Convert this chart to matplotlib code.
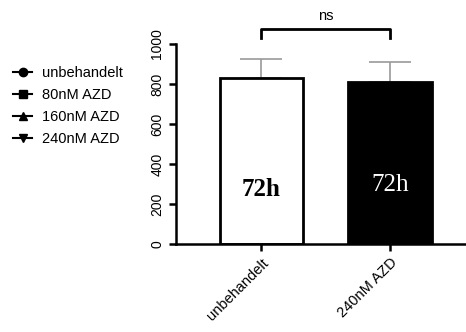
import matplotlib.pyplot as plt
from matplotlib.lines import Line2D

plt.rcParams['font.family'] = ['Liberation Sans', 'DejaVu Sans']

groups = ["unbehandelt", "240nM AZD"]
means = [830, 810]
errors = [95, 100]
legend_labels = ["unbehandelt", "80nM AZD", "160nM AZD", "240nM AZD"]
legend_markers = ["o", "s", "^", "v"]

fig = plt.figure(figsize=(4.66, 3.32), dpi=100)
ax = fig.add_axes([0.378, 0.265, 0.622, 0.663])

x = [0, 1]
ax.bar(x, means, width=0.645, color=["white", "black"], edgecolor="black", linewidth=2, zorder=2)
ax.errorbar(x, means, yerr=[[0, 0], errors], fmt="none", ecolor="#999999", elinewidth=1.2,
            capsize=15, capthick=1.2, zorder=1)

ax.set_xlim(-0.66, 1.59)
ax.set_ylim(0, 1100)
ax.set_yticks([0, 200, 400, 600, 800, 1000])
ax.set_yticklabels(["0", "200", "400", "600", "800", "1000"], rotation=90, va="center", fontsize=10)
ax.set_xticks(x)
ax.set_xticklabels(groups, rotation=45, ha="right", rotation_mode="anchor", fontsize=10.5)
ax.spines["top"].set_visible(False)
ax.spines["right"].set_visible(False)
ax.spines["left"].set_bounds(0, 1000)
ax.spines["left"].set_linewidth(1.8)
ax.spines["bottom"].set_linewidth(1.8)
ax.tick_params(width=1.8, length=5)

ax.text(0, 270, "72h", ha="center", va="center", fontsize=18, fontweight="bold",
        family="Liberation Serif", color="black")
ax.text(1, 295, "72h", ha="center", va="center", fontsize=18,
        family="Liberation Serif", color="white")

# significance bracket
ax.plot([0, 0, 1, 1], [1030, 1075, 1075, 1030], color="black", lw=2, clip_on=False)
ax.text(0.5, 1105, "ns", ha="center", va="bottom", fontsize=10.5, clip_on=False)

handles = [Line2D([], [], color="black", marker=m, markersize=6, lw=1.5) for m in legend_markers]
fig.legend(handles, legend_labels, loc="upper left", bbox_to_anchor=(0.0, 0.84), frameon=False,
           fontsize=10.5, handlelength=1.3, handletextpad=0.7, labelspacing=0.55)

fig.savefig("out.png", dpi=100)
